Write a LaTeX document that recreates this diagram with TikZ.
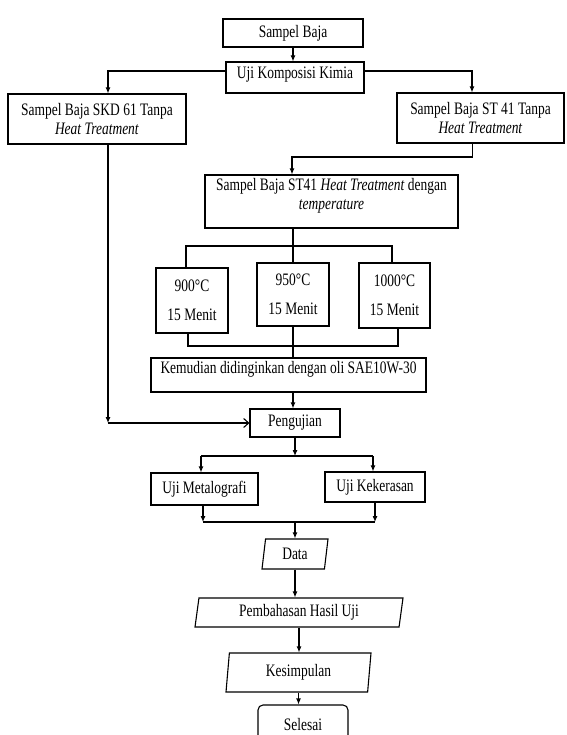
\documentclass[tikz,border=0pt]{standalone}
\usepackage{xcolor}
\usepackage{fontspec}
\setmainfont{Liberation Serif}[FakeStretch=0.77]
\usepackage{tikz}
\usetikzlibrary{positioning,shapes,arrows.meta,shapes.geometric}

\begin{document}
\begin{tikzpicture}[x=1pt, y=-1pt,
    box/.style={draw, line width=1.1pt, rectangle, inner sep=0pt, align=center, font=\fontsize{17.5}{19.5}\selectfont},
    para/.style={box, trapezium, trapezium stretches body},
    line/.style={line width=1.1pt},
    arr/.style={line, -{Latex[length=6pt,width=5pt]}},
    openarr/.style={line, -{Straight Barb[length=5pt,width=9pt]}}]
    \useasboundingbox (0,0) rectangle (566,735);
    \clip (0,0) rectangle (566,735);

    % boxes
    \node[box, minimum width=140pt, minimum height=28pt] (baja) at (293,33) {Sampel Baja};
    \node[box, minimum width=138pt, minimum height=31pt, text height=14pt, text depth=12pt] (kimia) at (295,77.5) {Uji Komposisi Kimia};
    \node[box, minimum width=178pt, minimum height=50pt] (skd) at (97,119) {Sampel Baja SKD 61 Tanpa\\ \textit{Heat Treatment}};
    \node[box, minimum width=167pt, minimum height=50pt] (st) at (480.5,118) {Sampel Baja ST 41 Tanpa\\ \textit{Heat Treatment}};
    \node[box, minimum width=253pt, minimum height=53pt] (temp) at (331.5,201.5) {Sampel Baja ST41 \textit{Heat Treatment} dengan\\ \textit{temperature}\\[-4pt]};
    \node[box, minimum width=72pt, minimum height=65pt] (t900) at (192,300.5) {900°C\\[10pt]15 Menit};
    \node[box, minimum width=72pt, minimum height=63pt] (t950) at (293,294.5) {950°C\\[10pt]15 Menit};
    \node[box, minimum width=71pt, minimum height=65pt] (t1000) at (394.5,295.5) {1000°C\\[10pt]15 Menit};
    \node[box, minimum width=275pt, minimum height=34pt, text height=14pt, text depth=17pt] (oli) at (288.5,375) {Kemudian didinginkan dengan oli SAE10W-30};
    \node[box, minimum width=90pt, minimum height=28pt] (uji) at (295,423) {Pengujian};
    \node[box, minimum width=107pt, minimum height=32pt] (meta) at (204.5,489) {Uji Metalografi};
    \node[box, minimum width=100pt, minimum height=30pt] (keras) at (375,487) {Uji Kekerasan};
    \node[para, trapezium left angle=73, trapezium right angle=107, minimum width=66pt, minimum height=30pt] (data) at (295,554) {Data};
    \node[para, trapezium left angle=76, trapezium right angle=104, minimum width=208pt, minimum height=29pt] (bahas) at (299,612.5) {Pembahasan Hasil Uji};
    \node[para, trapezium left angle=78, trapezium right angle=102, minimum width=145pt, minimum height=39pt] (simpul) at (298.5,672.5) {Kesimpulan};
    \node[box, rounded corners=5pt, minimum width=90pt, minimum height=40pt] (selesai) at (303,725) {Selesai};

    % bends
    \coordinate (stb) at (472.5,157);
    \coordinate (d900) at (186,246);
    \coordinate (d1000) at (392,246);
    \coordinate (c900) at (188,346);
    \coordinate (c1000) at (398,346);
    \coordinate (lc) at (108,423);
    \coordinate (b1) at (201,456);
    \coordinate (b2) at (373,456);
    \coordinate (m1) at (203,522);
    \coordinate (m2) at (375,522);

    % connectors
    \draw[arr] (baja.south) -- (baja.south |- kimia.north);
    \draw[arr] ([yshift=6.5pt]kimia.west) -| ([xshift=11pt]skd.north);
    \draw[arr] ([yshift=6.5pt]kimia.east) -| ([xshift=-8.5pt]st.north);
    \draw[arr] ([xshift=-8pt]st.south) -- (stb) -| ([xshift=-39.5pt]temp.north);
    \draw[line] (t950.north |- temp.south) -- (t950.north);
    \draw[line] (d900 |- t900.north) -- (d900) -- (d1000) -- (d1000 |- t1000.north);
    \draw[line] (c900 |- t900.south) -- (c900) -- (c1000) -- (c1000 |- t1000.south);
    \draw[line] (t950.south) -- (t950.south |- oli.north);
    \draw[arr] (t950.south |- oli.south) -- (t950.south |- uji.north);
    \draw[arr] ([xshift=11pt]skd.south) -- (lc);
    \draw[openarr] (lc) -- (uji.west);
    \draw[arr] (uji.south) -- (uji.south |- b1);
    \draw[line] (b1) -- (b2);
    \draw[arr] (b1) -- (b1 |- meta.north);
    \draw[arr] (b2) -- (b2 |- keras.north);
    \draw[arr] (m1 |- meta.south) -- (m1);
    \draw[arr] (m2 |- keras.south) -- (m2);
    \draw[line] (m1) -- (m2);
    \draw[arr] (data.north |- m1) -- (data.north);
    \draw[arr] (data.south) -- (data.south |- bahas.north);
    \draw[arr] (bahas.south) -- (bahas.south |- simpul.north);
    \draw[arr] (simpul.south) -- (simpul.south |- selesai.north);
\end{tikzpicture}
\end{document}
